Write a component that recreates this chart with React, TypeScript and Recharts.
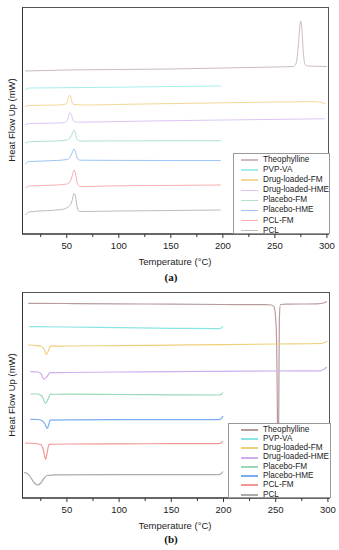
import { Line, LineChart, XAxis, YAxis } from 'recharts';

// temperature ticks (°C), labels only on every 50
const TICKS = [25, 50, 75, 100, 125, 150, 175, 200, 225, 250, 275, 300];
const T_DOMAIN: [number, number] = [7, 302];

const NAMES = [
  'Theophylline',
  'PVP-VA',
  'Drug-loaded-FM',
  'Drug-loaded-HME',
  'Placebo-FM',
  'Placebo-HME',
  'PCL-FM',
  'PCL',
];

const COLORS_A = ['#cdbcbc', '#a6eeee', '#f2d896', '#dcc6f6', '#b2e2c8', '#9cc4f6', '#f7b0b0', '#bdbdbd'];
const COLORS_B = ['#b89c9c', '#8ae4e4', '#eecf7a', '#ccaef0', '#9ad9b8', '#7aacf2', '#f29696', '#ababab'];

// (a) heating — [temperature °C, offset heat flow (arb.)]
const THEO_A = [[10, 163], [50, 164], [100, 164.5], [150, 165], [200, 166], [250, 167], [268, 167.5], [270.5, 171], [272.5, 188], [274.3, 211], [275, 213], [275.8, 207], [277.3, 182], [279, 169.5], [282, 168], [300, 167.5]];
const PVPVA_A = [[10, 144.5], [14, 146], [50, 146.3], [100, 146.8], [150, 147.5], [198, 148]];
const DLFM_A = [[10, 127.3], [14, 128.5], [40, 129], [48, 129.5], [50.5, 132], [52.5, 138.5], [53.5, 138], [55, 132], [57, 129.5], [70, 129], [100, 129.6], [150, 130.4], [200, 131.2], [250, 132], [288, 132.3], [294, 131.7], [299, 130]];
const DLHME_A = [[10, 109], [14, 110.5], [40, 111], [48, 111.5], [51, 115], [53, 121.3], [54.5, 119], [56.5, 113], [60, 111.8], [100, 112.5], [150, 113.3], [200, 114], [250, 114.6], [298, 115.2]];
const PFM_A = [[10, 90.7], [14, 92.3], [40, 93], [50, 94], [53, 96], [55.5, 101], [57, 104], [58.5, 100], [60, 94.5], [63, 93], [100, 93.1], [150, 93.2], [198, 93.3]];
const PHME_A = [[10, 69.7], [14, 72.5], [40, 73.5], [50, 74.5], [53, 76.5], [55.5, 82], [57, 85], [58.5, 82], [60, 76], [63, 73.8], [100, 73.6], [150, 73.5], [198, 73.4]];
const PCLFM_A = [[10, 45.7], [14, 48], [40, 49], [50, 50], [53, 52], [55.5, 59], [57, 64], [58.5, 60], [60, 51], [63, 47.5], [100, 48.2], [150, 48.6], [198, 49]];
const PCL_A = [[10, 19], [15, 22.3], [30, 23.3], [45, 24.5], [52, 27.5], [55, 33], [57, 40.7], [58.5, 37], [60, 27], [62, 22.5], [100, 23], [150, 23.5], [198, 24]];

// (b) cooling
const THEO_B = [[13, 194.7], [50, 194.5], [100, 194.2], [150, 193.8], [200, 193.5], [240, 193.3], [246, 193], [248.5, 191], [250.5, 170], [251.5, 100], [252.2, 10], [253, 100], [253.5, 180], [254.5, 193.5], [260, 193.8], [290, 194.2], [296, 195], [299, 196.5]];
const PVPVA_B = [[14, 171.3], [50, 171], [100, 170.3], [150, 169.7], [195, 169.3], [198, 170], [199.5, 172]];
const DLFM_B = [[13, 153], [20, 152.5], [25, 152], [28, 149], [30.5, 143.7], [32.5, 148], [34, 151.8], [50, 152], [100, 152.4], [150, 152.9], [200, 153.4], [250, 154], [294, 154.5], [297, 155.5], [299.5, 157]];
const DLHME_B = [[15, 126.3], [22, 126], [25, 124.5], [28, 118.7], [31, 121.5], [34, 125.3], [50, 125.5], [100, 126], [150, 126.4], [200, 126.7], [250, 127], [292, 127.2], [296, 128.5], [299, 131]];
const PFM_B = [[15, 104], [22, 104], [26, 102], [29.6, 94.7], [32, 99], [34, 103.7], [50, 103.8], [100, 103.5], [150, 103.2], [195, 103], [198, 103.8], [199.5, 105.5]];
const PHME_B = [[15, 78.7], [22, 78.5], [26, 77.5], [29, 74], [31.2, 69.7], [32.5, 73], [34, 77.8], [50, 78.2], [100, 78.3], [150, 78.3], [195, 78.4], [198, 79.5], [199.5, 82]];
const PCLFM_B = [[10, 55], [20, 54.5], [25, 53.5], [27.5, 48], [29.6, 38.7], [31, 45], [33, 53.7], [50, 54], [100, 54.2], [150, 54.3], [195, 54.4], [198, 55.3], [199.5, 57]];
const PCL_B = [[9, 25.3], [12, 24.5], [15, 21], [18.5, 15.5], [22, 13], [25, 15], [28, 19.5], [31, 22.5], [40, 23.2], [100, 23.3], [150, 23.3], [195, 23.4], [198, 24.5], [199.5, 26.5]];

const SERIES_A = [THEO_A, PVPVA_A, DLFM_A, DLHME_A, PFM_A, PHME_A, PCLFM_A, PCL_A];
const SERIES_B = [THEO_B, PVPVA_B, DLFM_B, DLHME_B, PFM_B, PHME_B, PCLFM_B, PCL_B];

const SANS = '"Liberation Sans", Arial, sans-serif';
const toPts = (arr: number[][]) => arr.map(([t, v]) => ({ t, v }));

function TempTick(props: any) {
  const { x, y, payload } = props;
  const major = payload.value % 50 === 0;
  return (
    <g>
      <line x1={x} x2={x} y1={y} y2={y + (major ? 4 : 3)} stroke="#333" />
      {major && (
        <text x={x} y={y + 14.5} textAnchor="middle" fontSize={9.5} fontFamily={SANS} fill="#222">
          {payload.value}
        </text>
      )}
    </g>
  );
}

interface PanelProps {
  top: number;
  height: number;
  plotTop: number;
  plotHeight: number;
  right: number;
  bottom: number;
  yMax: number;
  series: number[][][];
  colors: string[];
  width: number;
  legend: { left: number; top: number; row: number; lineW: number };
  tag: string;
  labelY: number;
  tagY: number;
}

function Panel(p: PanelProps) {
  const plotW = 339 - 22 - p.right;
  return (
    <div style={{ position: 'absolute', left: 0, top: p.top, width: 339, height: p.height + 60 }}>
      <LineChart width={339} height={p.height} margin={{ top: p.plotTop, right: p.right, left: 22, bottom: p.bottom }}>
        <XAxis
          type="number"
          dataKey="t"
          domain={T_DOMAIN}
          ticks={TICKS}
          interval={0}
          allowDataOverflow
          height={20}
          tickSize={0}
          tickMargin={0}
          tickLine={false}
          axisLine={{ stroke: '#333', strokeWidth: 1.3 }}
          tick={<TempTick />}
        />
        <YAxis type="number" dataKey="v" domain={[0, p.yMax]} hide />
        {p.series.map((s, i) => (
          <Line
            key={NAMES[i]}
            data={toPts(s)}
            dataKey="v"
            type="monotone"
            stroke={p.colors[i]}
            strokeWidth={p.width}
            dot={false}
            isAnimationActive={false}
          />
        ))}
      </LineChart>
      {/* frame */}
      <div
        style={{
          position: 'absolute',
          left: 22,
          top: p.plotTop,
          width: plotW,
          height: p.plotHeight,
          boxSizing: 'border-box',
          borderTop: '1px solid #555',
          borderRight: '1px solid #555',
          borderLeft: '1.5px solid #333',
          pointerEvents: 'none',
        }}
      />
      {/* legend */}
      <div
        style={{
          position: 'absolute',
          left: p.legend.left,
          top: p.legend.top,
          width: 339 - p.right - p.legend.left + 1,
          height: p.plotTop + p.plotHeight - p.legend.top,
          boxSizing: 'border-box',
          background: '#fff',
          border: '1px solid #999',
          paddingTop: 1,
        }}
      >
        {NAMES.map((n, i) => (
          <div key={n} style={{ display: 'flex', alignItems: 'center', height: p.legend.row }}>
            <span
              style={{
                marginLeft: 240 - p.legend.left,
                width: 17,
                height: p.legend.lineW,
                background: p.colors[i],
                flexShrink: 0,
              }}
            />
            <span style={{ marginLeft: 5, fontSize: 8.2, fontFamily: SANS, color: '#222', whiteSpace: 'nowrap', lineHeight: 1 }}>
              {n}
            </span>
          </div>
        ))}
      </div>
      {/* axis titles */}
      <div
        style={{
          position: 'absolute',
          left: 11,
          top: p.labelY,
          transform: 'translate(-50%, -50%) rotate(-90deg)',
          fontSize: 9.5,
          fontFamily: SANS,
          color: '#222',
          whiteSpace: 'nowrap',
        }}
      >
        Heat Flow Up (mW)
      </div>
      <div
        style={{
          position: 'absolute',
          left: 175,
          top: p.plotTop + p.plotHeight + 27,
          transform: 'translate(-50%, -50%)',
          fontSize: 9.5,
          fontFamily: SANS,
          color: '#222',
          whiteSpace: 'nowrap',
        }}
      >
        Temperature (°C)
      </div>
      <div
        style={{
          position: 'absolute',
          left: 171,
          top: p.tagY,
          transform: 'translate(-50%, -50%)',
          fontSize: 11,
          fontWeight: 'bold',
          fontFamily: '"Liberation Serif", "Times New Roman", serif',
          color: '#111',
        }}
      >
        {p.tag}
      </div>
    </div>
  );
}

export default function App() {
  return (
    <div style={{ position: 'absolute', left: 0, top: 0, width: 339, height: 550, background: '#fff', overflow: 'hidden' }}>
      <Panel
        top={0}
        height={258}
        plotTop={7}
        plotHeight={227}
        right={10}
        bottom={4}
        yMax={227}
        series={SERIES_A}
        colors={COLORS_A}
        width={1}
        legend={{ left: 233, top: 153, row: 10.1, lineW: 1.5 }}
        tag="(a)"
        labelY={120}
        tagY={277}
      />
      <Panel
        top={285}
        height={235}
        plotTop={7}
        plotHeight={206}
        right={9}
        bottom={2}
        yMax={206}
        series={SERIES_B}
        colors={COLORS_B}
        width={1.2}
        legend={{ left: 228, top: 138, row: 9.3, lineW: 2 }}
        tag="(b)"
        labelY={110}
        tagY={254}
      />
    </div>
  );
}
